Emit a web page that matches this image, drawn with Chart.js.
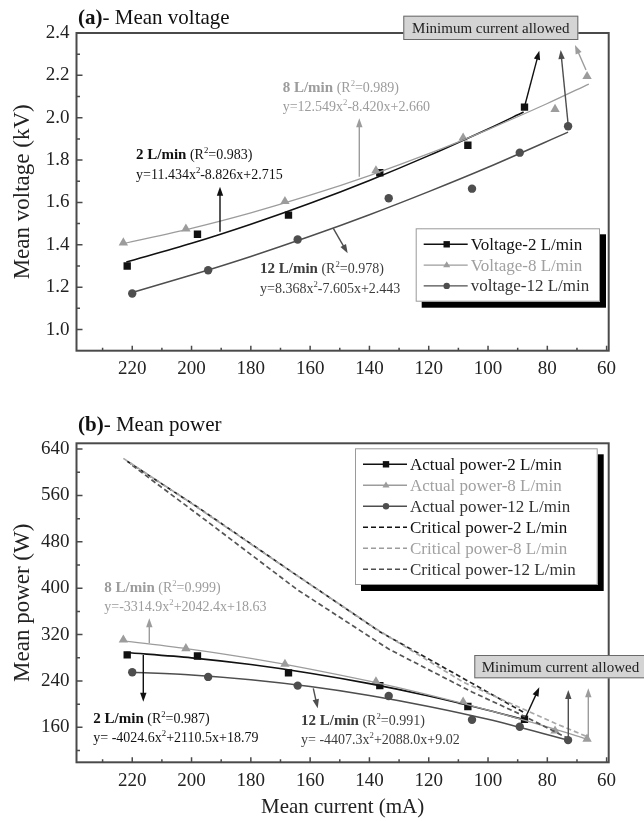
<!DOCTYPE html>
<html>
<head>
<meta charset="utf-8">
<script src="https://cdn.jsdelivr.net/npm/chart.js@4.4.1/dist/chart.umd.min.js"></script>
<style>
  html, body { margin: 0; padding: 0; background: #fff; }
  canvas { display: block; }
</style>
</head>
<body>
<canvas id="voltageChart" width="644" height="400"></canvas>
<canvas id="powerChart" width="644" height="421"></canvas>
<script>
// tick labels
const xTicks = [60, 80, 100, 120, 140, 160, 180, 200, 220];
const xMinorTicks = [70, 90, 110, 130, 150, 170, 190, 210, 230];
const voltageTicks = [1.0, 1.2, 1.4, 1.6, 1.8, 2.0, 2.2, 2.4];
const voltageMinorTicks = [1.1, 1.3, 1.5, 1.7, 1.9, 2.1, 2.3];
const powerTicks = [160, 240, 320, 400, 480, 560, 640];
const powerMinorTicks = [120, 200, 280, 360, 440, 520, 600];

// measured points - mean current (mA)
const current2 = [221.7, 198.0, 167.3, 136.5, 106.8, 87.7];
const current8 = [223.0, 201.9, 168.5, 137.8, 108.4, 77.4, 66.6];
const current12 = [220.0, 194.4, 164.2, 133.5, 105.4, 89.3, 73.0];

// mean voltage (kV)
const voltage2 = [1.30, 1.45, 1.54, 1.74, 1.87, 2.05];
const voltage8 = [1.41, 1.475, 1.605, 1.75, 1.905, 2.04, 2.195];
const voltage12 = [1.17, 1.28, 1.425, 1.62, 1.665, 1.835, 1.96];

// actual power (W)
const power2 = [285, 283, 254, 232, 196, 174];
const power8 = [311, 296, 269, 239, 204, 154, 140];
const power12 = [255, 247, 232, 214, 173, 161, 138];

// critical power (W), dashed lines
const critical2 = [619, 540, 432, 325, 240, 185];
const critical8 = [624, 553, 436, 330, 238, 167, 144];
const critical12 = [612, 514, 397, 295, 221, 183, 141];

// fitted curves
const fitCurrent2 = [222, 200, 180, 160, 140, 120, 100, 88];
const fitCurrent8 = [223, 200, 180, 160, 140, 120, 100, 80, 66];
const fitCurrent12 = [220, 200, 180, 160, 140, 120, 100, 73];
const fitVoltage2 = [1.319, 1.407, 1.497, 1.596, 1.704, 1.821, 1.947, 2.027];
const fitVoltage8 = [1.406, 1.478, 1.551, 1.634, 1.727, 1.830, 1.944, 2.067, 2.159];
const fitVoltage12 = [1.175, 1.257, 1.345, 1.440, 1.542, 1.651, 1.766, 1.932];
const fitPower2 = [289.0, 279.9, 268.3, 253.4, 235.4, 214.1, 189.6, 173.3];
const fitPower8 = [309.2, 294.5, 278.9, 260.6, 239.6, 216.0, 189.7, 160.8, 139.0];
const fitPower12 = [255.1, 250.3, 242.1, 230.3, 215.0, 196.1, 173.8, 138.0];

const SERIF = '"Liberation Serif", "Times New Roman", serif';
const BLACK = "#111111";
const GRAY = "#9c9c9c";
const DARK = "#4e4e4e";

function toPoints(xs, ys) {
  return xs.map((x, i) => ({ x: x, y: ys[i] }));
}

function fitLine(xs, ys, color, width) {
  return { type: "line", data: toPoints(xs, ys), borderColor: color, borderWidth: width,
    pointRadius: 0, tension: 0.3, fill: false };
}

function dashedLine(xs, ys, color) {
  return { type: "line", data: toPoints(xs, ys), borderColor: color, borderWidth: 1.7,
    borderDash: [5, 3], pointRadius: 0, tension: 0, fill: false };
}

function markers(xs, ys, color, style, radius) {
  return { type: "scatter", data: toPoints(xs, ys), backgroundColor: color, borderColor: color,
    borderWidth: 0, pointStyle: style, pointRadius: radius, showLine: false };
}

function drawMarker(ctx, style, x, y, r, color) {
  ctx.fillStyle = color;
  ctx.beginPath();
  if (style == "rect") {
    ctx.rect(x - r, y - r, 2 * r, 2 * r);
  } else if (style == "triangle") {
    ctx.moveTo(x, y - r * 1.2);
    ctx.lineTo(x + r * 1.1, y + r * 0.7);
    ctx.lineTo(x - r * 1.1, y + r * 0.7);
    ctx.closePath();
  } else {
    ctx.arc(x, y, r, 0, Math.PI * 2);
  }
  ctx.fill();
}

function arrow(ctx, x1, y1, x2, y2, color) {
  let ang = Math.atan2(y2 - y1, x2 - x1);
  let len = 9, half = 3.2;
  ctx.strokeStyle = color;
  ctx.fillStyle = color;
  ctx.lineWidth = 1.4;
  ctx.beginPath();
  ctx.moveTo(x1, y1);
  ctx.lineTo(x2 - Math.cos(ang) * len * 0.8, y2 - Math.sin(ang) * len * 0.8);
  ctx.stroke();
  ctx.beginPath();
  ctx.moveTo(x2, y2);
  ctx.lineTo(x2 - Math.cos(ang) * len - Math.sin(ang) * half, y2 - Math.sin(ang) * len + Math.cos(ang) * half);
  ctx.lineTo(x2 - Math.cos(ang) * len + Math.sin(ang) * half, y2 - Math.sin(ang) * len - Math.cos(ang) * half);
  ctx.closePath();
  ctx.fill();
}

// parts: [text, bold, size, sup]
function richText(ctx, x, y, parts, color) {
  let cx = x;
  ctx.fillStyle = color;
  ctx.textBaseline = "alphabetic";
  ctx.textAlign = "left";
  for (let p of parts) {
    let size = p[3] ? p[2] * 0.62 : p[2];
    ctx.font = (p[1] ? "bold " : "") + size + "px " + SERIF;
    ctx.fillText(p[0], cx, p[3] ? y - p[2] * 0.42 : y);
    cx += ctx.measureText(p[0]).width;
  }
}

function fitLabel(ctx, x, y, name, r2, eq, color) {
  richText(ctx, x, y, [[name, true, 15], [" (R", false, 14], ["2", false, 14, true], ["=" + r2 + ")", false, 14]], color);
  let e = eq.split("^2");
  richText(ctx, x, y + 19.5, [[e[0], false, 14], ["2", false, 14, true], [e[1], false, 14]], color);
}

function minimumBox(ctx, x, y, w, h, textX, centered) {
  ctx.fillStyle = "#d4d4d4";
  ctx.fillRect(x, y, w, h);
  ctx.strokeStyle = "#6a6a6a";
  ctx.lineWidth = 1;
  ctx.strokeRect(x + 0.5, y + 0.5, w - 1, h - 1);
  ctx.fillStyle = "#222";
  ctx.font = "15px " + SERIF;
  ctx.textBaseline = "middle";
  ctx.textAlign = centered ? "center" : "left";
  ctx.fillText("Minimum current allowed", textX, y + h / 2 + 1);
}

function legendBox(ctx, x, y, w, h, rows, rowGap) {
  ctx.fillStyle = "#000";
  ctx.fillRect(x + 6, y + 6, w, h);
  ctx.fillStyle = "#fff";
  ctx.fillRect(x, y, w, h);
  ctx.strokeStyle = "#9a9a9a";
  ctx.lineWidth = 1;
  ctx.strokeRect(x + 0.5, y + 0.5, w - 1, h - 1);
  rows.forEach((r, i) => {
    let ry = y + 16 + i * rowGap;
    ctx.strokeStyle = r.color;
    ctx.lineWidth = 1.4;
    ctx.setLineDash(r.dash ? [5, 3] : []);
    ctx.beginPath();
    ctx.moveTo(x + 8, ry);
    ctx.lineTo(x + 52, ry);
    ctx.stroke();
    ctx.setLineDash([]);
    if (r.style) drawMarker(ctx, r.style, x + 31, ry, 3.2, r.color);
    ctx.fillStyle = r.textColor;
    ctx.font = "17px " + SERIF;
    ctx.textBaseline = "middle";
    ctx.textAlign = "left";
    ctx.fillText(r.label, x + 55, ry + 1);
  });
}

function framePlugin(yMajor, yMinor, title, extras) {
  return {
    id: "frame",
    afterDatasetsDraw(chart) {
      let ctx = chart.ctx;
      let a = chart.chartArea;
      let sx = chart.scales.x, sy = chart.scales.y;
      ctx.save();
      ctx.strokeStyle = "#4a4a4a";
      ctx.lineWidth = 2;
      ctx.strokeRect(a.left, a.top, a.right - a.left, a.bottom - a.top);
      ctx.lineWidth = 1.5;
      ctx.beginPath();
      xTicks.forEach(v => { let p = sx.getPixelForValue(v); ctx.moveTo(p, a.bottom); ctx.lineTo(p, a.bottom - 5); });
      xMinorTicks.forEach(v => { let p = sx.getPixelForValue(v); ctx.moveTo(p, a.bottom); ctx.lineTo(p, a.bottom - 3); });
      yMajor.forEach(v => { let p = sy.getPixelForValue(v); ctx.moveTo(a.left, p); ctx.lineTo(a.left + 6, p); });
      yMinor.forEach(v => { let p = sy.getPixelForValue(v); ctx.moveTo(a.left, p); ctx.lineTo(a.left + 3.5, p); });
      ctx.stroke();
      ctx.restore();
    },
    afterDraw(chart) {
      let ctx = chart.ctx;
      ctx.save();
      richText(ctx, 78, title.y, [[title.tag, true, 21], ["- " + title.text, false, 21]], "#111");
      extras(ctx);
      ctx.restore();
    }
  };
}

function panelOptions(yMin, yMax, yMajor, yDecimals, yTitle, xTitle, padTop, xHeight) {
  return {
    responsive: false,
    animation: false,
    layout: { padding: { top: padTop, right: 35.3, left: 0, bottom: 0 } },
    plugins: { legend: { display: false }, tooltip: { enabled: false } },
    scales: {
      x: {
        type: "linear", reverse: true, min: 59.3, max: 238.8,
        afterBuildTicks: s => { s.ticks = xTicks.map(v => ({ value: v })); },
        afterFit: s => { s.height = xHeight; },
        grid: { display: false, drawTicks: false }, border: { display: false },
        ticks: { color: "#222", padding: 7, autoSkip: false, maxRotation: 0,
          font: { family: SERIF, size: 19 }, callback: v => v },
        title: { display: !!xTitle, text: xTitle, color: "#222",
          font: { family: SERIF, size: 21 }, padding: { top: 0, bottom: 1 } }
      },
      y: {
        type: "linear", min: yMin, max: yMax,
        afterBuildTicks: s => { s.ticks = yMajor.map(v => ({ value: v })); },
        afterFit: s => { s.width = 76.5; },
        grid: { display: false, drawTicks: false }, border: { display: false },
        ticks: { color: "#222", padding: 7, font: { family: SERIF, size: 19 },
          callback: v => v.toFixed(yDecimals) },
        title: { display: true, text: yTitle, color: "#222",
          font: { family: SERIF, size: 23 }, padding: { top: 9, bottom: 0 } }
      }
    }
  };
}

function drawVoltage() {
  let extras = function (ctx) {
    minimumBox(ctx, 403.3, 15.7, 175, 24.3, 490.8, true);
    arrow(ctx, 524.7, 106, 539.3, 50.7, BLACK);
    arrow(ctx, 568.3, 126, 560.7, 50, DARK);
    arrow(ctx, 586, 70, 575, 45, GRAY);
    arrow(ctx, 359.3, 176.7, 359.3, 118.3, GRAY);
    arrow(ctx, 220, 231.7, 220, 186.7, BLACK);
    arrow(ctx, 333.3, 228.3, 347.7, 253.3, DARK);
    fitLabel(ctx, 282.7, 91.5, "8 L/min", "0.989", "y=12.549x^2-8.420x+2.660", GRAY);
    fitLabel(ctx, 136, 159, "2 L/min", "0.983", "y=11.434x^2-8.826x+2.715", BLACK);
    fitLabel(ctx, 260, 273, "12 L/min", "0.978", "y=8.368x^2-7.605x+2.443", "#3c3c3c");
    legendBox(ctx, 415.7, 228.3, 184.3, 73.4, [
      { label: "Voltage-2 L/min", color: BLACK, textColor: "#111", style: "rect" },
      { label: "Voltage-8 L/min", color: GRAY, textColor: "#a0a0a0", style: "triangle" },
      { label: "voltage-12 L/min", color: DARK, textColor: "#333", style: "circle" }
    ], 20.8);
  };

  new Chart(document.getElementById("voltageChart"), {
    type: "scatter",
    data: {
      datasets: [
        fitLine(fitCurrent8, fitVoltage8, GRAY, 1.3),
        fitLine(fitCurrent2, fitVoltage2, BLACK, 1.6),
        fitLine(fitCurrent12, fitVoltage12, DARK, 1.5),
        markers(current8, voltage8, GRAY, "triangle", 5.4),
        markers(current2, voltage2, BLACK, "rect", 5.2),
        markers(current12, voltage12, DARK, "circle", 4.2)
      ]
    },
    options: panelOptions(0.9, 2.4, voltageTicks, 1, "Mean voltage (kV)", "", 33, 49.3),
    plugins: [framePlugin(voltageTicks, voltageMinorTicks, { tag: "(a)", text: "Mean voltage", y: 24 }, extras)]
  });
}

function drawPower() {
  let extras = function (ctx) {
    legendBox(ctx, 355, 48.3, 242.7, 136.7, [
      { label: "Actual power-2 L/min", color: BLACK, textColor: "#111", style: "rect" },
      { label: "Actual power-8 L/min", color: GRAY, textColor: "#a0a0a0", style: "triangle" },
      { label: "Actual power-12 L/min", color: DARK, textColor: "#333", style: "circle" },
      { label: "Critical power-2 L/min", color: BLACK, textColor: "#111", dash: true },
      { label: "Critical power-8 L/min", color: GRAY, textColor: "#a0a0a0", dash: true },
      { label: "Critical power-12 L/min", color: DARK, textColor: "#333", dash: true }
    ], 21);
    minimumBox(ctx, 474.3, 255, 180, 23.3, 481.7, false);
    arrow(ctx, 524.7, 319.3, 539.3, 287.3, BLACK);
    arrow(ctx, 568.3, 339, 568.3, 290, DARK);
    arrow(ctx, 588.3, 337, 588.3, 288.3, GRAY);
    arrow(ctx, 149.3, 243.3, 149.3, 218.3, GRAY);
    arrow(ctx, 143.3, 255, 143.3, 301.7, BLACK);
    arrow(ctx, 313.3, 288.3, 317.7, 308.3, DARK);
    fitLabel(ctx, 104.3, 191.5, "8 L/min", "0.999", "y=-3314.9x^2+2042.4x+18.63", GRAY);
    fitLabel(ctx, 93.3, 322.5, "2 L/min", "0.987", "y= -4024.6x^2+2110.5x+18.79", BLACK);
    fitLabel(ctx, 301, 324.5, "12 L/min", "0.991", "y= -4407.3x^2+2088.0x+9.02", "#3c3c3c");
  };

  new Chart(document.getElementById("powerChart"), {
    type: "scatter",
    data: {
      datasets: [
        dashedLine(current8, critical8, "#a8a8a8"),
        dashedLine(current12, critical12, "#555555"),
        dashedLine(current2, critical2, "#262626"),
        fitLine(fitCurrent8, fitPower8, GRAY, 1.3),
        fitLine(fitCurrent2, fitPower2, BLACK, 1.6),
        fitLine(fitCurrent12, fitPower12, DARK, 1.5),
        markers(current8, power8, GRAY, "triangle", 5.4),
        markers(current2, power2, BLACK, "rect", 5.2),
        markers(current12, power12, DARK, "circle", 4.2)
      ]
    },
    options: panelOptions(99.7, 650, powerTicks, 0, "Mean power (W)", "Mean current (mA)", 43.3, 58.7),
    plugins: [framePlugin(powerTicks, powerMinorTicks, { tag: "(b)", text: "Mean power", y: 31 }, extras)]
  });
}

drawVoltage();
drawPower();
</script>
</body>
</html>
